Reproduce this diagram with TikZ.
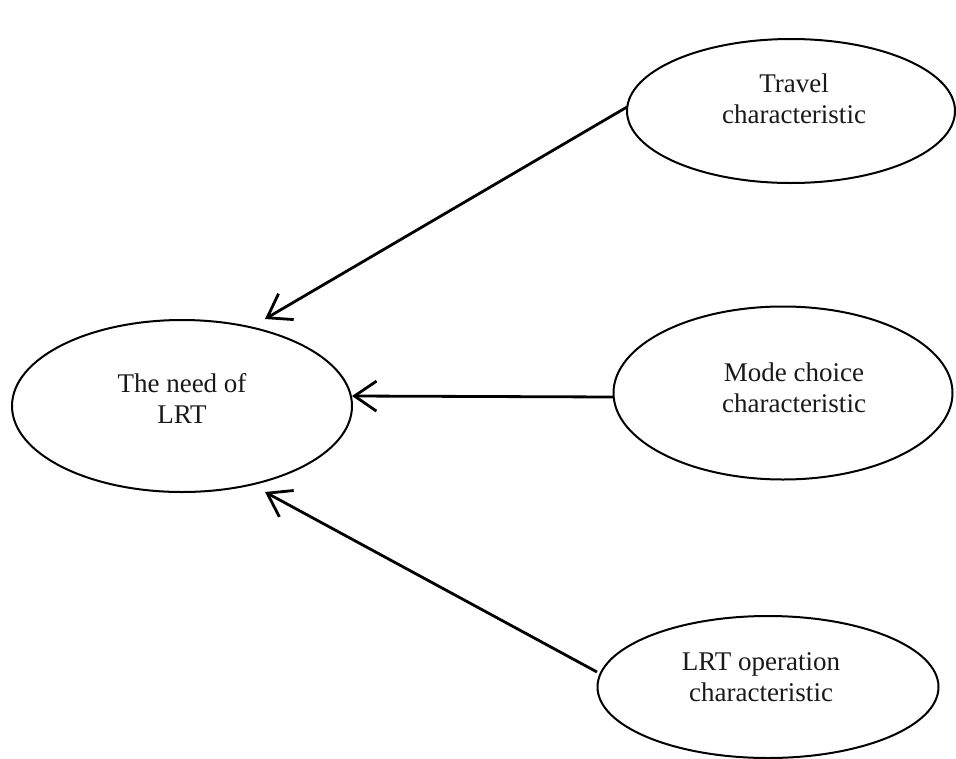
\documentclass[tikz,border=0pt]{standalone}
\usepackage{fontspec}
\setmainfont{Liberation Serif}
\usetikzlibrary{arrows.meta,shapes.geometric}
\begin{document}
\begin{tikzpicture}[x=1pt,y=-1pt,
  oval/.style={draw=black,line width=2pt,ellipse,inner sep=0pt},
  txt/.style={align=center,font=\fontsize{27}{31}\selectfont,text=black!90},
  arr/.style={line width=2.8pt,-{Straight Barb[length=22pt,width=30pt,line width=2.8pt]}}]
\useasboundingbox (0,0) rectangle (956,758);
\node[oval,minimum width=340pt,minimum height=172pt] (need) at (182,406) {};
\node[oval,minimum width=328pt,minimum height=144pt] (travel) at (791,111) {};
\node[oval,minimum width=339pt,minimum height=173pt] (mode) at (783,393) {};
\node[oval,minimum width=341pt,minimum height=142pt] (oper) at (768,687) {};
\node[txt] (needt) at (182,398) {The need of\\LRT};
\node[txt] (travelt) at (794,99) {Travel\\characteristic};
\node[txt] (modet) at (794,388) {Mode choice\\characteristic};
\node[txt] (opert) at (761,677) {LRT operation\\characteristic};
\coordinate (s1) at (627,107);
\coordinate (e1) at (265,319);
\coordinate (s2) at (614,397);
\coordinate (e2) at (352,396);
\coordinate (s3) at (597,672);
\coordinate (e3) at (265,492);
\draw[arr] (s1) -- (e1);
\draw[arr] (s2) -- (e2);
\draw[arr] (s3) -- (e3);
\end{tikzpicture}
\end{document}
